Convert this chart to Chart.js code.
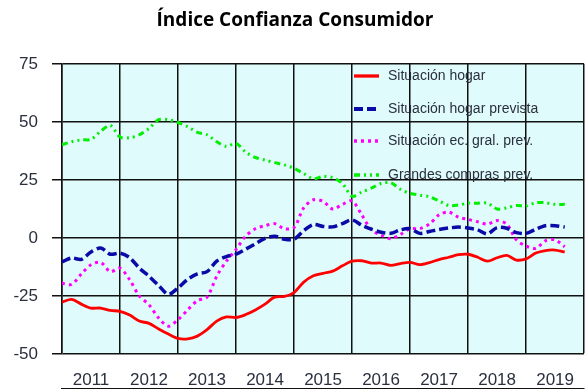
<!DOCTYPE html>
<html>
<head>
<meta charset="utf-8">
<script src="https://cdn.jsdelivr.net/npm/chart.js@4"></script>
<style>
  html, body { margin: 0; padding: 0; background: #fff; overflow: hidden; }
  #wrap { width: 590px; height: 389px; }
</style>
</head>
<body>
<div id="wrap"><canvas id="chart" width="590" height="389"></canvas></div>
<script>
// bimonthly observations, Jan 2011 - Sep 2019
const months = [
    '2011-01', '2011-03', '2011-05', '2011-07', '2011-09', '2011-11',
    '2012-01', '2012-03', '2012-05', '2012-07', '2012-09', '2012-11',
    '2013-01', '2013-03', '2013-05', '2013-07', '2013-09', '2013-11',
    '2014-01', '2014-03', '2014-05', '2014-07', '2014-09', '2014-11',
    '2015-01', '2015-03', '2015-05', '2015-07', '2015-09', '2015-11',
    '2016-01', '2016-03', '2016-05', '2016-07', '2016-09', '2016-11',
    '2017-01', '2017-03', '2017-05', '2017-07', '2017-09', '2017-11',
    '2018-01', '2018-03', '2018-05', '2018-07', '2018-09', '2018-11',
    '2019-01', '2019-03', '2019-05', '2019-07', '2019-09'
];

const hogar = [
    -27.6, -26.5, -28.5, -30.2, -30.2, -31.2,
    -31.6, -33.2, -35.8, -36.8, -39.2, -41.4,
    -43.3, -43.5, -42.3, -39.5, -35.8, -34,
    -34.3, -33, -31, -28.5, -25.5, -25.2,
    -23.5, -19, -16.3, -15.2, -14.3, -12,
    -10, -9.8, -10.8, -10.8, -11.8, -11,
    -10.5, -11.5, -10.6, -9.3, -8.3, -7.2,
    -7, -8.3, -10, -8.5, -7.5, -9.5,
    -9, -6.5, -5.4, -5.2, -6
];

const hogarPrevista = [
    -10.3, -8.6, -9.2, -6, -4.3, -7,
    -6.5, -8.5, -13, -16.5, -20.5, -24.3,
    -21.5, -17.8, -15.5, -14.5, -10, -8,
    -7, -4.8, -2.5, -0.2, 0.8, -0.5,
    -0.5, 3.2, 5.8, 5, 4.8, 6.2,
    7.8, 5.5, 3.8, 2.5, 2, 3.5,
    4, 2, 2.8, 3.7, 4.3, 4.7,
    4.3, 3.5, 1.8, 4.5, 4.2, 2.3,
    2, 3.8, 5.3, 5.3, 4.7
];

const ecGral = [
    -19.5, -20, -15.5, -11.5, -10.5, -14.5,
    -13, -18, -25, -28.8, -34.5, -38,
    -35.2, -31, -27, -25.5, -16.5, -10,
    -5, 0.8, 4, 5.3, 6.2, 4,
    4.5, 13, 16.5, 15.8, 12.5, 14.5,
    16, 10, 3.5, 1.3, -0.3, 1.5,
    4, 4, 6, 10, 11.2, 9,
    8, 7, 6, 7.5, 6, -0.8,
    -3.5, -4.5, -1.2, -0.8, -3.8
];

const grandesCompras = [
    40.2, 41.5, 42.3, 42.5, 46, 48.5,
    43.5, 43.2, 44.5, 47.2, 51, 51,
    49.8, 48, 45.5, 44.5, 41.5, 39.5,
    40.8, 37, 34.7, 33.6, 32.5, 31.5,
    30, 27.8, 25.5, 26.5, 26, 23.5,
    18, 19.8, 21.5, 23.5, 23.8, 21,
    19.2, 18.5, 17.8, 16, 14, 14.2,
    15, 15, 15, 12.5, 13, 14,
    13.8, 15.2, 15.2, 14.5, 14.5
];

const valueTicks = [-50, -25, 0, 25, 50, 75];
const yearTicks = [2011, 2012, 2013, 2014, 2015, 2016, 2017, 2018, 2019, 2020];
const yearLabels = ['2011', '2012', '2013', '2014', '2015', '2016', '2017', '2018', '2019'];

// 'YYYY-MM' -> decimal year
function toYear(m) {
    const [y, mo] = m.split('-').map(Number);
    return y + (mo - 1) / 12;
}

function series(values) {
    return values.map((v, i) => ({ x: toYear(months[i]), y: v }));
}

const textColor = '#2a2f3e';
const font = 'Liberation Sans, Arial, sans-serif';

const plotBackground = {
    id: 'plotBackground',
    beforeDraw(chart) {
        const { ctx, chartArea } = chart;
        ctx.save();
        ctx.fillStyle = '#e0fbfb';
        ctx.fillRect(chartArea.left, chartArea.top, chartArea.right - chartArea.left, chartArea.bottom - chartArea.top);
        ctx.restore();
    }
};

// legend drawn inside the plot, over the lines
const insideLegend = {
    id: 'insideLegend',
    afterDatasetsDraw(chart) {
        const { ctx, chartArea } = chart;
        const x0 = chartArea.left + 292;
        const rows = [12, 45, 77, 111];
        ctx.save();
        chart.data.datasets.forEach((ds, i) => {
            const y = chartArea.top + rows[i];
            ctx.beginPath();
            ctx.strokeStyle = ds.borderColor;
            ctx.lineWidth = ds.borderWidth + 0.5;
            ctx.setLineDash(ds.borderDash || []);
            ctx.moveTo(x0, y);
            ctx.lineTo(x0 + 25, y);
            ctx.stroke();
            ctx.setLineDash([]);
            ctx.fillStyle = textColor;
            ctx.font = '14px ' + font;
            ctx.textBaseline = 'middle';
            ctx.fillText(ds.label, x0 + 34, y);
        });
        ctx.restore();
    }
};

const ctx = document.getElementById('chart').getContext('2d');
const chart = new Chart(ctx, {
    type: 'line',
    data: {
        datasets: [
            {
                label: 'Situación hogar',
                data: series(hogar),
                borderColor: '#ff0000',
                borderWidth: 2.8,
                tension: 0.3
            },
            {
                label: 'Situación hogar prevista',
                data: series(hogarPrevista),
                borderColor: '#0a0aa8',
                borderWidth: 3.5,
                borderDash: [9, 4],
                tension: 0.3
            },
            {
                label: 'Situación ec. gral. prev.',
                data: series(ecGral),
                borderColor: '#ff00ff',
                borderWidth: 3,
                borderDash: [3, 4],
                tension: 0.3
            },
            {
                label: 'Grandes compras prev.',
                data: series(grandesCompras),
                borderColor: '#00ee00',
                borderWidth: 3,
                borderDash: [6, 4, 2, 4, 2, 4],
                tension: 0.3
            }
        ]
    },
    options: {
        responsive: false,
        animation: false,
        layout: { padding: 0 },
        elements: { point: { radius: 0 } },
        plugins: {
            legend: { display: false },
            tooltip: { enabled: false },
            title: {
                display: true,
                text: 'Índice Confianza Consumidor',
                color: '#000',
                font: { family: 'Open Sans', size: 19, weight: 'bold' },
                padding: { top: 9, bottom: 32.2 }
            }
        },
        scales: {
            y: {
                min: -50,
                max: 75,
                afterFit(scale) { scale.width = 62; },
                afterBuildTicks(scale) {
                    scale.ticks = valueTicks.map(v => ({ value: v }));
                },
                grid: { color: '#111', lineWidth: 1.5, tickLength: 10 },
                border: { color: '#111', width: 1.5 },
                ticks: { color: textColor, font: { family: font, size: 17 }, padding: 14 }
            },
            x: {
                type: 'linear',
                min: 2011,
                max: 2020,
                weight: 2,
                afterFit(scale) { scale.height = 0; },
                afterBuildTicks(scale) {
                    scale.ticks = yearTicks.map(v => ({ value: v }));
                },
                grid: { color: '#111', lineWidth: 1.5, drawTicks: false },
                border: { color: '#111', width: 1.5 },
                ticks: { display: false }
            },
            x2: {
                type: 'linear',
                position: 'bottom',
                min: 2011,
                max: 2020,
                weight: 1,
                afterFit(scale) { scale.height = 35; },
                afterBuildTicks(scale) {
                    scale.ticks = yearLabels.map(l => ({ value: Number(l) + 0.5 }));
                },
                grid: { display: false, drawTicks: false },
                border: { display: false },
                ticks: {
                    color: textColor,
                    font: { family: font, size: 17 },
                    padding: 16,
                    maxRotation: 0,
                    callback: (v) => String(Math.floor(v))
                }
            }
        }
    },
    plugins: [plotBackground, insideLegend]
});
</script>
</body>
</html>
